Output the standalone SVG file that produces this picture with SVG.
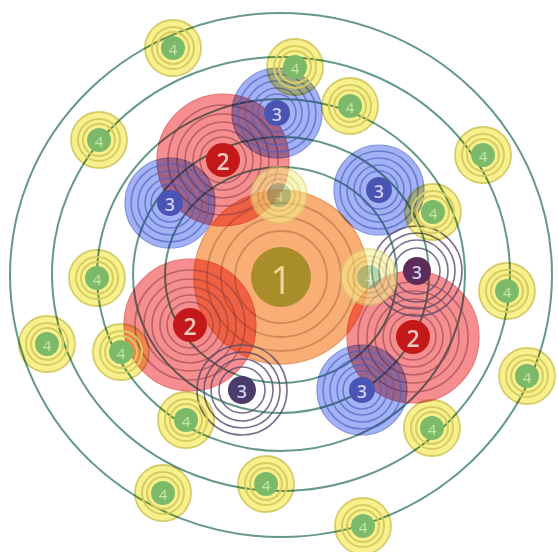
<svg xmlns="http://www.w3.org/2000/svg" width="558" height="552" viewBox="0 0 558 552">
<style>
.orbit{fill:none;stroke:#649888;stroke-width:2}
.f1{fill:#f9ae76;stroke:#eb9a60;stroke-width:1.5;mix-blend-mode:multiply}
.r1{fill:none;stroke:#c07a46;stroke-width:1.8;opacity:.7}
.c1{fill:#a98d2b}
.f2{fill:#f68d8f;stroke:#ea7378;stroke-width:1.2;mix-blend-mode:multiply}
.r2{fill:none;stroke:#8a3a48;stroke-width:1.6;opacity:.55}
.c2{fill:#c3191b}
.f3{fill:#a3b2f5;stroke:#8495e4;stroke-width:1.2;mix-blend-mode:multiply}
.r3{fill:none;stroke:#4d5ec2;stroke-width:1.6;opacity:.65}
.c3{fill:#4a54b4}
.r3w{fill:none;stroke:#5a4a6e;stroke-width:1.6;opacity:.8}
.c3w{fill:#4b3c6c}
.f4{fill:#f7f08c;stroke:#d6cd6a;stroke-width:1.8;mix-blend-mode:multiply}
.r4{fill:none;stroke:#d6cc60;stroke-width:2}
.c4{fill:#7cba6a}
.faint{opacity:.55}
text{font-family:"Open Sans","Liberation Sans",sans-serif;text-anchor:middle;dominant-baseline:central}
.t1{font-size:38px;fill:#ecd89a}
.t2{font-size:23px;font-weight:600;fill:#f5c8c0}
.t3{font-size:18px;font-weight:600;fill:#cfd0f2}
.t4{font-size:15px;fill:#c8e8a8}
</style>
<defs>
<g id="n4">
<circle class="f4" r="28"/>
<circle class="r4" r="21"/>
<circle class="r4" r="16"/>
<circle class="c4" r="12"/>
<text class="t4" y="1">4</text>
</g>
<g id="n3">
<circle class="f3" r="45"/>
<circle class="r3" r="39"/>
<circle class="r3" r="32"/>
<circle class="r3" r="25"/>
<circle class="r3" r="19"/>
<circle class="c3" r="13"/>
<text class="t3" y="1">3</text>
</g>
<g id="n2">
<circle class="f2" r="66"/>
<circle class="r2" r="55"/>
<circle class="r2" r="46"/>
<circle class="r2" r="38"/>
<circle class="r2" r="30"/>
<circle class="r2" r="23"/>
<circle class="c2" r="17"/>
<text class="t2" y="1">2</text>
</g>
</defs>
<rect width="558" height="552" fill="#ffffff"/>
<g id="orbits">
<ellipse class="orbit" cx="281" cy="275" rx="271" ry="262"/>
<ellipse class="orbit" cx="281" cy="274" rx="229" ry="217"/>
<ellipse class="orbit" cx="281" cy="275" rx="184" ry="176"/>
<ellipse class="orbit" cx="281" cy="275" rx="148" ry="138"/>
<ellipse class="orbit" cx="281" cy="275" rx="116" ry="108"/>
</g>
<g id="node-1">
<circle class="f1" cx="281" cy="277" r="87"/>
<circle class="r1" cx="281" cy="277" r="74"/>
<circle class="r1" cx="281" cy="277" r="60"/>
<circle class="r1" cx="281" cy="277" r="46"/>
<circle class="c1" cx="281" cy="277" r="30"/>
<text class="t1" x="281" y="279">1</text>
</g>
<g id="node-2a"><use href="#n2" x="223" y="160"/></g>
<g id="node-2b"><use href="#n2" x="190" y="325"/></g>
<g id="node-2c"><use href="#n2" x="413" y="337"/></g>
<g id="node-3a"><use href="#n3" x="277" y="113"/></g>
<g id="node-3b"><use href="#n3" x="170" y="203"/></g>
<g id="node-3c"><use href="#n3" x="379" y="190"/></g>
<g id="node-3d"><use href="#n3" x="362" y="390"/></g>
<g id="node-3e">
<circle class="r3w" cx="242" cy="390" r="45"/>
<circle class="r3w" cx="242" cy="390" r="38"/>
<circle class="r3w" cx="242" cy="390" r="31"/>
<circle class="r3w" cx="242" cy="390" r="23"/>
<circle class="c3w" cx="242" cy="390" r="14"/>
<text class="t3" x="242" y="391">3</text>
</g>
<g id="node-3f">
<circle class="r3w" cx="417" cy="271" r="45"/>
<circle class="r3w" cx="417" cy="271" r="38"/>
<circle class="r3w" cx="417" cy="271" r="31"/>
<circle class="r3w" cx="417" cy="271" r="23"/>
<circle cx="417" cy="271" r="14" fill="#5e2c5a"/>
<text class="t3" x="417" y="272">3</text>
</g>
<g id="node-4a"><use href="#n4" x="173" y="48"/></g>
<g id="node-4b"><use href="#n4" x="295" y="67"/></g>
<g id="node-4c"><use href="#n4" x="350" y="106"/></g>
<g id="node-4d"><use href="#n4" x="99" y="140"/></g>
<g id="node-4e"><use href="#n4" x="483" y="155"/></g>
<g id="node-4f"><use href="#n4" x="433" y="212"/></g>
<g id="node-4g" class="faint"><use href="#n4" x="279" y="195"/></g>
<g id="node-4h" class="faint"><use href="#n4" x="369" y="277"/></g>
<g id="node-4i"><use href="#n4" x="97" y="278"/></g>
<g id="node-4j"><use href="#n4" x="507" y="291"/></g>
<g id="node-4k"><use href="#n4" x="47" y="344"/></g>
<g id="node-4l"><use href="#n4" x="121" y="352"/></g>
<g id="node-4m"><use href="#n4" x="527" y="376"/></g>
<g id="node-4n"><use href="#n4" x="186" y="420"/></g>
<g id="node-4o"><use href="#n4" x="432" y="428"/></g>
<g id="node-4p"><use href="#n4" x="163" y="493"/></g>
<g id="node-4q"><use href="#n4" x="266" y="484"/></g>
<g id="node-4r"><use href="#n4" x="363" y="526"/></g>
</svg>
